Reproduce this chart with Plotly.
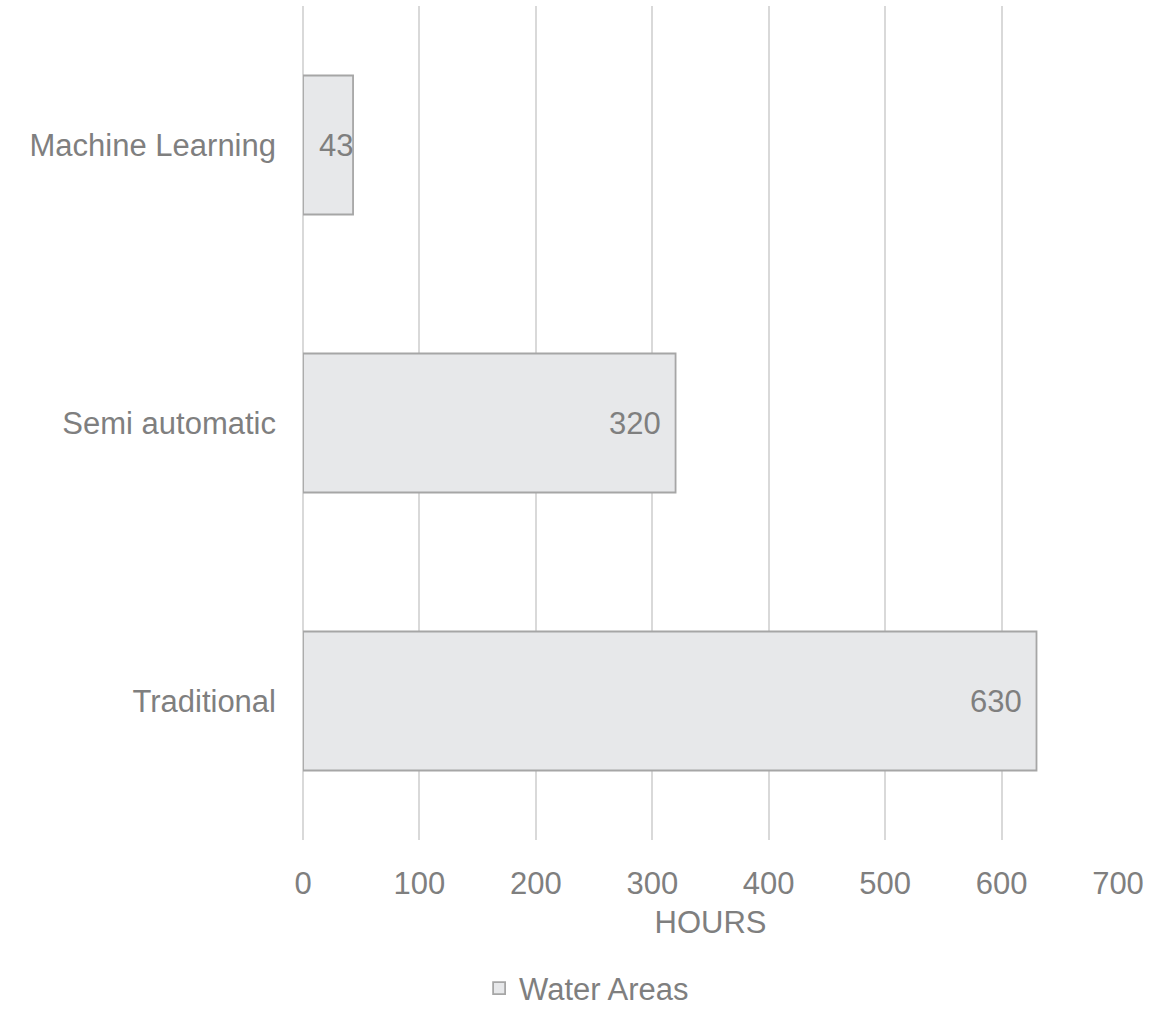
import plotly.graph_objects as go

categories = ["Traditional", "Semi automatic", "Machine Learning"]
hours = [630, 320, 43]
series_name = "Water Areas"
x_ticks = [0, 100, 200, 300, 400, 500, 600, 700]
x_title = "HOURS"

TEXT = "#7f7f7f"
FONT = "Liberation Sans, Arial, sans-serif"
FS = 31

fig = go.Figure()
fig.add_trace(go.Bar(
    y=categories, x=hours, orientation="h", name=series_name,
    width=0.5,
    marker=dict(color="#e7e8ea", line=dict(color="#a6a6a6", width=1.8)),
    showlegend=True,
))

label_shift = [-13, -13, 2]
for c, v, s in zip(categories, hours, label_shift):
    fig.add_annotation(x=v, y=c, text=str(v), showarrow=False,
                       xanchor="right", yanchor="middle", xshift=s,
                       font=dict(family=FONT, size=FS, color=TEXT))

fig.update_layout(
    width=1173, height=1012,
    margin=dict(l=303, r=55, t=6, b=172, autoexpand=False),
    paper_bgcolor="white", plot_bgcolor="white",
    font=dict(family=FONT, size=FS, color=TEXT),
    bargap=0.5,
    legend=dict(orientation="h", x=0.348, xanchor="center",
                y=-0.178, yanchor="middle",
                font=dict(family=FONT, size=FS, color=TEXT),
                bgcolor="rgba(0,0,0,0)"),
    xaxis=dict(range=[0, 700], tickvals=x_ticks, ticktext=[str(t) for t in x_ticks],
               showgrid=True, gridcolor="#d9d9d9", gridwidth=1.5,
               zeroline=True, zerolinecolor="#d9d9d9", zerolinewidth=1.5,
               showline=False, ticks="", ticklabelstandoff=22,
               tickfont=dict(family=FONT, size=FS, color=TEXT),
               title=dict(text=x_title, standoff=11,
                          font=dict(family=FONT, size=FS, color=TEXT))),
    yaxis=dict(range=[-0.5, 2.5], showgrid=False, zeroline=False, showline=False,
               ticks="", ticklabelstandoff=26,
               tickfont=dict(family=FONT, size=FS, color=TEXT)),
)

fig.write_html("out.html", config={"displayModeBar": False},
               post_script="document.body.style.margin='0';")
